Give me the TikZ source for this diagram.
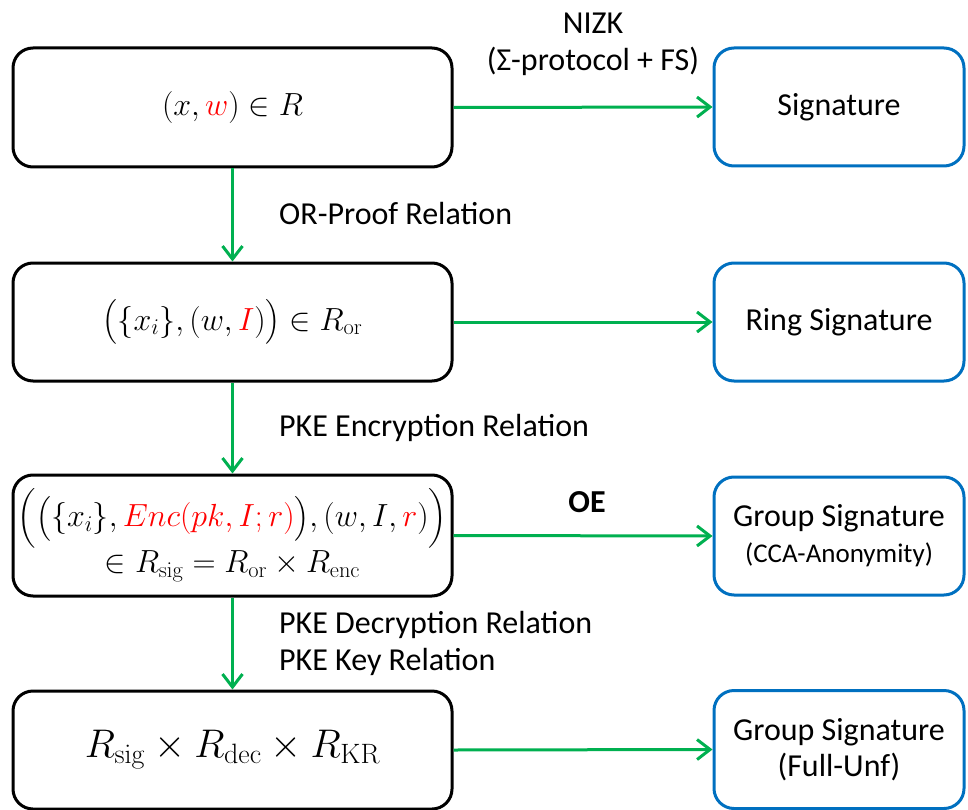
\RequirePackage{fix-cm}
\documentclass[tikz,border=0pt]{standalone}
\usepackage{amsmath}
\usepackage[no-math]{fontspec}
\setmainfont{Carlito}
\usetikzlibrary{arrows.meta}
\definecolor{arrgreen}{HTML}{00B050}
\definecolor{boxblue}{HTML}{0070C0}
\definecolor{mred}{HTML}{FF0000}
\begin{document}
\begin{tikzpicture}[x=1pt,y=-1pt,
  relbox/.style={draw=black, line width=3pt, rounded corners=20pt,
    minimum width=439pt, minimum height=119pt, inner sep=0pt, align=center,
    font=\fontsize{32}{38}\selectfont},
  goalbox/.style={draw=boxblue, line width=3pt, rounded corners=20pt,
    minimum width=250pt, minimum height=118pt, inner sep=0pt, align=center,
    font=\fontsize{32}{36}\selectfont},
  flow/.style={draw=arrgreen, line width=3pt,
    -{Straight Barb[length=13pt,width=20pt]}},
  lbl/.style={font=\fontsize{32}{37}\selectfont, inner sep=0pt}]
\useasboundingbox (0,0) rectangle (968,810);

% relation chain (left column)
\node[relbox] (b1) at (232.5,107.5) {$(x,{\color{mred}w})\in R$};
\node[relbox, minimum height=118pt] (b2) at (232.5,322)
  {$\bigl(\{x_i\},(w,{\color{mred}I})\bigr)\in R_{\mathrm{or}}$};
\node[relbox, minimum height=121pt, font=\fontsize{32}{46}\selectfont] (b3) at (232.5,535.5)
  {$\Bigl(\bigl(\{x_i\},{\color{mred}Enc(pk,I;r)}\bigr),(w,I,{\color{mred}r})\Bigr)$\\
   $\in R_{\mathrm{sig}}=R_{\mathrm{or}}\times R_{\mathrm{enc}}$};
\node[relbox, minimum height=118pt, font=\fontsize{40}{48}\selectfont] (b4) at (232.5,750)
  {$R_{\mathrm{sig}}\times R_{\mathrm{dec}}\times R_{\mathrm{KR}}$};

% resulting primitives (right column)
\node[goalbox] (r1) at (839,107) {Signature};
\node[goalbox] (r2) at (839,322) {Ring Signature};
\node[goalbox] (r3) at (839,536)
  {Group Signature\\{\fontsize{27}{30}\selectfont (CCA-Anonymity)}};
\node[goalbox] (r4) at (839,749.5) {Group Signature\\(Full-Unf)};

% vertical steps
\draw[flow] (b1.south) -- (b2.north);
\draw[flow] (b2.south) -- (b3.north);
\draw[flow] (b3.south) -- (b4.north);

% horizontal constructions
\draw[flow] (b1.east) -- (r1.west);
\draw[flow] (b2.east) -- (r2.west);
\draw[flow] (b3.east) -- (r3.west);
\draw[flow] (b4.east) -- (r4.west);

% labels
\node[lbl, align=center] (nizk) at (593,44) {NIZK\\(Σ-protocol + FS)};
\node[lbl] (oe) at (587,502) {\bfseries OE};
\node[lbl, anchor=west] (orp) at (279,214) {OR-Proof Relation};
\node[lbl, anchor=west] (enc) at (279,428) {PKE Encryption Relation};
\node[lbl, anchor=west, align=left] (dec) at (279,643)
  {PKE Decryption Relation\\PKE Key Relation};
\end{tikzpicture}
\end{document}
